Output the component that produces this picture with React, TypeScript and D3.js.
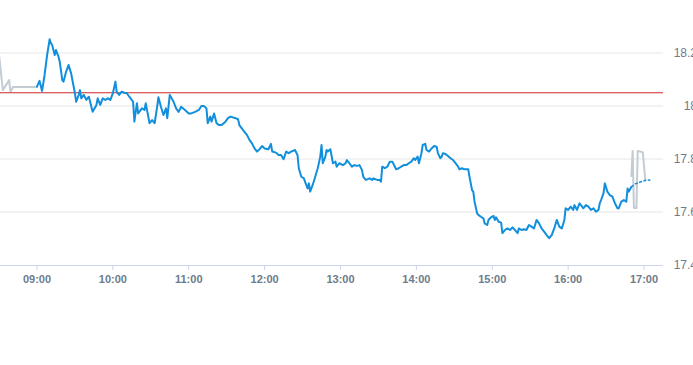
import React from "react";
import * as d3 from "d3";

// regular session (blue line)
const sessionTimes = [
  "09:00", "09:02", "09:04", "09:06", "09:08", "09:10", "09:11", "09:12", "09:14", "09:15",
  "09:17", "09:18", "09:20", "09:21", "09:23", "09:25", "09:27", "09:28", "09:30", "09:31",
  "09:33", "09:34", "09:35", "09:37", "09:39", "09:41", "09:42", "09:44", "09:47", "09:48",
  "09:50", "09:52", "09:54", "09:56", "09:58", "10:00", "10:02", "10:03", "10:05", "10:07",
  "10:09", "10:11", "10:13", "10:14", "10:16", "10:17", "10:19", "10:20", "10:23", "10:25",
  "10:26", "10:28", "10:29", "10:31", "10:33", "10:35", "10:36", "10:38", "10:40", "10:42",
  "10:43", "10:45", "10:48", "10:50", "10:52", "10:54", "10:57", "11:00", "11:02", "11:05",
  "11:08", "11:10", "11:12", "11:14", "11:15", "11:17", "11:18", "11:20", "11:22", "11:24",
  "11:26", "11:29", "11:31", "11:33", "11:37", "11:39", "11:40", "11:43", "11:46", "11:48",
  "11:50", "11:52", "11:54", "11:56", "11:58", "12:00", "12:03", "12:05", "12:06", "12:09",
  "12:11", "12:13", "12:15", "12:17", "12:19", "12:21", "12:24", "12:26", "12:27", "12:29",
  "12:31", "12:32", "12:34", "12:35", "12:36", "12:38", "12:40", "12:42", "12:44", "12:45",
  "12:46", "12:48", "12:49", "12:50", "12:52", "12:54", "12:56", "12:57", "12:59", "13:02",
  "13:04", "13:05", "13:07", "13:09", "13:11", "13:13", "13:15", "13:17", "13:18", "13:20",
  "13:23", "13:25", "13:26", "13:29", "13:31", "13:32", "13:33", "13:34", "13:35", "13:37",
  "13:39", "13:41", "13:43", "13:44", "13:46", "13:48", "13:50", "13:52", "13:54", "13:56",
  "13:58", "13:59", "14:01", "14:02", "14:04", "14:05", "14:07", "14:08", "14:10", "14:12",
  "14:14", "14:16", "14:17", "14:19", "14:20", "14:21", "14:23", "14:25", "14:27", "14:29",
  "14:31", "14:33", "14:34", "14:36", "14:38", "14:41", "14:42", "14:44", "14:45", "14:46",
  "14:48", "14:49", "14:51", "14:53", "14:54", "14:56", "14:57", "14:59", "15:01", "15:02",
  "15:03", "15:05", "15:07", "15:08", "15:10", "15:12", "15:14", "15:16", "15:18", "15:20",
  "15:21", "15:23", "15:25", "15:27", "15:29", "15:31", "15:33", "15:35", "15:37", "15:39",
  "15:41", "15:43", "15:45", "15:47", "15:49", "15:51", "15:53", "15:55", "15:57", "15:58",
  "16:00", "16:02", "16:04", "16:05", "16:07", "16:09", "16:11", "16:12", "16:14", "16:16",
  "16:18", "16:20", "16:22", "16:24", "16:25", "16:26", "16:28", "16:29", "16:31", "16:33",
  "16:35", "16:37", "16:39", "16:40", "16:42", "16:44", "16:46", "16:47", "16:48", "16:50",
];
const sessionPrices = [
  18.073, 18.095, 18.057, 18.117, 18.192, 18.252, 18.237, 18.230, 18.192, 18.211,
  18.186, 18.167, 18.098, 18.092, 18.129, 18.155, 18.123, 18.098, 18.048, 18.016,
  18.042, 18.060, 18.029, 18.042, 18.023, 18.035, 18.016, 17.978, 18.004, 18.029,
  18.004, 18.029, 18.023, 18.029, 18.023, 18.048, 18.092, 18.054, 18.042, 18.054,
  18.050, 18.048, 18.035, 18.029, 18.016, 17.941, 18.010, 17.972, 17.991, 17.985,
  18.010, 17.960, 17.935, 17.947, 17.935, 17.997, 18.033, 17.997, 17.966, 17.991,
  17.954, 18.042, 18.016, 17.991, 17.978, 17.997, 17.985, 17.972, 17.972, 17.978,
  17.985, 18.000, 18.000, 17.991, 17.935, 17.960, 17.941, 17.972, 17.935, 17.928,
  17.928, 17.941, 17.954, 17.960, 17.954, 17.950, 17.928, 17.909, 17.891, 17.872,
  17.859, 17.840, 17.828, 17.837, 17.849, 17.840, 17.837, 17.857, 17.828, 17.824,
  17.815, 17.815, 17.799, 17.828, 17.822, 17.828, 17.834, 17.815, 17.765, 17.733,
  17.727, 17.714, 17.689, 17.708, 17.677, 17.702, 17.733, 17.765, 17.809, 17.853,
  17.784, 17.809, 17.834, 17.828, 17.837, 17.784, 17.790, 17.771, 17.784, 17.777,
  17.784, 17.796, 17.784, 17.771, 17.777, 17.774, 17.777, 17.758, 17.733, 17.721,
  17.727, 17.721, 17.727, 17.721, 17.721, 17.714, 17.771, 17.769, 17.765, 17.771,
  17.790, 17.790, 17.771, 17.761, 17.765, 17.771, 17.777, 17.777, 17.784, 17.790,
  17.803, 17.796, 17.809, 17.784, 17.822, 17.853, 17.857, 17.834, 17.828, 17.840,
  17.849, 17.846, 17.822, 17.803, 17.809, 17.822, 17.819, 17.811, 17.803, 17.796,
  17.784, 17.771, 17.761, 17.765, 17.761, 17.761, 17.733, 17.683, 17.677, 17.639,
  17.595, 17.589, 17.582, 17.576, 17.557, 17.551, 17.570, 17.580, 17.585, 17.570,
  17.580, 17.563, 17.560, 17.520, 17.532, 17.538, 17.532, 17.542, 17.532, 17.520,
  17.538, 17.532, 17.535, 17.532, 17.551, 17.545, 17.538, 17.570, 17.557, 17.538,
  17.526, 17.513, 17.501, 17.513, 17.538, 17.570, 17.545, 17.538, 17.570, 17.614,
  17.608, 17.620, 17.608, 17.626, 17.608, 17.633, 17.620, 17.614, 17.626, 17.620,
  17.608, 17.614, 17.601, 17.608, 17.633, 17.645, 17.671, 17.708, 17.677, 17.664,
  17.658, 17.633, 17.614, 17.614, 17.639, 17.645, 17.639, 17.689, 17.677, 17.695,
];

// closing extension (dashed blue)
const closeTimes = ["16:50", "16:53", "16:57", "17:01", "17:05"];
const closePrices = [17.695, 17.706, 17.713, 17.719, 17.721];

// pre / post market (grey)
const preTimes = ["08:30", "08:33", "08:38", "08:39", "08:41", "09:00"];
const prePrices = [18.192, 18.06, 18.098, 18.053, 18.072, 18.072];
const postTimes = ["16:50", "16:51", "16:52", "16:54", "16:55", "16:59", "17:01"];
const postPrices = [17.736, 17.83, 17.615, 17.615, 17.83, 17.826, 17.721];

const previousClose = 18.05;
const yTicks = [17.4, 17.6, 17.8, 18, 18.2];
const xTicks = ["09:00", "10:00", "11:00", "12:00", "13:00", "14:00", "15:00", "16:00", "17:00"];

const width = 693;
const height = 365;
const plotRight = 663;
const parseTime = d3.timeParse("%H:%M:%S");
const at = (t: string) => parseTime(t.length === 5 ? t + ":00" : t) as Date;

export default function App() {
  const x = d3.scaleTime().domain([at("08:30:45"), at("17:15:00")]).range([0, plotRight]);
  const y = d3.scaleLinear().domain([17.4, 18.2]).range([265, 53]);

  const path = (times: string[], prices: number[]) =>
    d3
      .line<number>()
      .x((_, i) => x(at(times[i])))
      .y((v) => y(v))(prices) || "";

  const labelColor = "#6e7b8b";

  return (
    <svg
      width={width}
      height={height}
      style={{ position: "absolute", left: 0, top: 0, background: "#fff" }}
      fontFamily="'Liberation Sans', Arial, sans-serif"
    >
      <defs>
        <clipPath id="plot">
          <rect x={0} y={0} width={plotRight} height={265} />
        </clipPath>
      </defs>

      {yTicks.slice(1).map((t) => (
        <line key={t} x1={0} x2={plotRight} y1={y(t)} y2={y(t)} stroke="#e6e6e6" />
      ))}
      <line x1={0} x2={plotRight} y1={y(17.4) + 0.5} y2={y(17.4) + 0.5} stroke="#ccd6eb" />
      {xTicks.map((t) => (
        <line key={t} x1={x(at(t))} x2={x(at(t))} y1={265} y2={270} stroke="#ccd6eb" />
      ))}

      <g clipPath="url(#plot)" fill="none" strokeLinejoin="round" strokeLinecap="round">
        <path d={path(preTimes, prePrices)} stroke="#c3cbd3" strokeWidth={2} />
        <path d={path(postTimes, postPrices)} stroke="#c3cbd3" strokeWidth={2} />
        <line
          x1={0}
          x2={plotRight}
          y1={y(previousClose)}
          y2={y(previousClose)}
          stroke="#cc2a2a"
          strokeWidth={1}
          strokeLinecap="butt"
        />
        <path d={path(sessionTimes, sessionPrices)} stroke="#118fdc" strokeWidth={2} />
        <path
          d={path(closeTimes, closePrices)}
          stroke="#118fdc"
          strokeWidth={1.5}
          strokeDasharray="3 1.5"
          strokeLinecap="butt"
        />
      </g>

      {yTicks.map((t) => (
        <text
          key={t}
          x={697}
          y={y(t) + 4}
          textAnchor="end"
          fontSize={12}
          fill={labelColor}
        >
          {String(t)}
        </text>
      ))}
      {xTicks.map((t) => (
        <text
          key={t}
          x={x(at(t))}
          y={283}
          textAnchor="middle"
          fontSize={11}
          fontWeight="bold"
          fill={labelColor}
        >
          {t}
        </text>
      ))}
    </svg>
  );
}
